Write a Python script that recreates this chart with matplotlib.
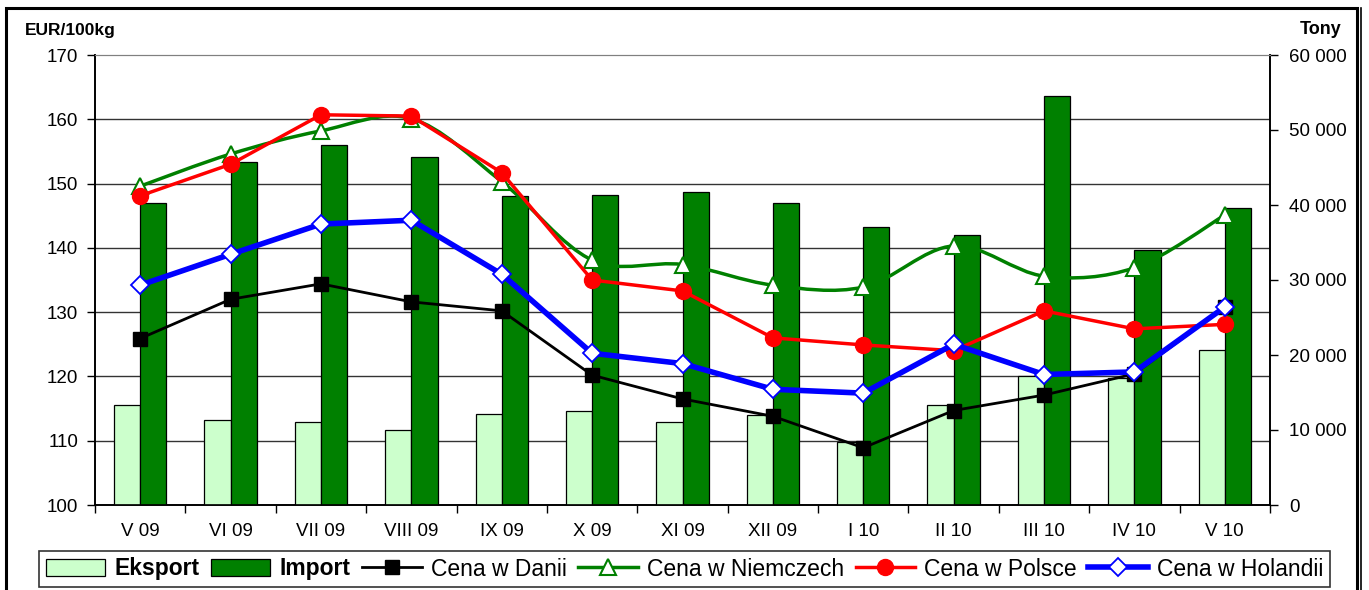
import numpy as np
import matplotlib
matplotlib.use('Agg')
import matplotlib.pyplot as plt
from matplotlib.path import Path
from matplotlib.patches import PathPatch, Patch, Rectangle
from matplotlib.lines import Line2D
from matplotlib.ticker import FuncFormatter

plt.rcParams['font.family'] = ['Liberation Sans', 'DejaVu Sans']

months = ['V 09', 'VI 09', 'VII 09', 'VIII 09', 'IX 09', 'X 09', 'XI 09',
          'XII 09', 'I 10', 'II 10', 'III 10', 'IV 10', 'V 10']

# tony
eksport = [13400, 11400, 11100, 10000, 12100, 12600, 11100,
           12000, 8400, 13400, 17200, 17000, 20700]
import_t = [40300, 45700, 48000, 46400, 41200, 41400, 41700,
            40300, 37100, 36000, 54500, 34000, 39600]

# EUR/100kg
cena_dania = [125.9, 132.0, 134.4, 131.6, 130.2, 120.2, 116.5,
              113.8, 108.9, 114.7, 117.1, 120.4, 130.8]
cena_niemcy = [149.6, 154.6, 158.2, 160.1, 150.3, 138.1, 137.4,
               134.2, 133.9, 140.3, 135.6, 136.9, 145.1]
cena_polska = [148.1, 153.0, 160.7, 160.5, 151.7, 135.0, 133.3,
               126.0, 124.9, 124.0, 130.2, 127.4, 128.1]
cena_holandia = [134.2, 139.0, 143.7, 144.3, 135.9, 123.6, 122.0,
                 118.0, 117.4, 125.0, 120.3, 120.7, 130.8]

eur_ticks = list(range(100, 171, 10))
t_ticks = list(range(0, 60001, 10000))

fig = plt.figure(figsize=(13.69, 5.90), dpi=100)
ax = fig.add_axes([95 / 1369, 1 - 505 / 590, 1175 / 1369, 450 / 590])
ax2 = ax.twinx()

x = np.arange(len(months))
w = 0.29

# bars (tons, right scale)
ax.bar(x - w / 2, eksport, w, color='#CCFFCC', edgecolor='black', linewidth=0.9, zorder=3)
ax.bar(x + w / 2, import_t, w, color='#008000', edgecolor='black', linewidth=0.9, zorder=3)
ax.set_ylim(0, 60000)
ax.set_xlim(-0.5, len(months) - 0.5)
ax.yaxis.tick_right()
ax.set_yticks(t_ticks)
ax.yaxis.set_major_formatter(FuncFormatter(lambda v, p: f'{int(v):,}'.replace(',', ' ')))

# gridlines at EUR ticks, drawn behind bars
grid_t = [(v - 100) * 60000 / 70 for v in eur_ticks]
ax.set_yticks(grid_t, minor=True)
ax.grid(which='minor', axis='y', color='#333333', linewidth=1.0, zorder=0)
ax.tick_params(axis='y', which='minor', length=0)
ax.tick_params(axis='y', which='major', direction='out', length=6, width=1, pad=8,
               labelsize=13.5, right=True, left=False)

# x ticks: marks between categories, labels at centers
ax.set_xticks(np.arange(-0.5, len(months), 1))
ax.set_xticklabels([])
ax.set_xticks(x, minor=True)
ax.set_xticklabels(months, minor=True)
ax.tick_params(axis='x', which='major', direction='out', length=6, width=1)
ax.tick_params(axis='x', which='minor', length=0, pad=13, labelsize=13.5)

# lines (EUR, left scale)
ax2.set_ylim(100, 170)
ax2.yaxis.tick_left()
ax2.set_yticks(eur_ticks)
ax2.tick_params(axis='y', direction='out', length=6, width=1, pad=6, labelsize=13.5,
                left=True, right=False)

# Excel-like smoothed line for Germany
pts = np.column_stack([x, cena_niemcy])
verts = [tuple(pts[0])]
codes = [Path.MOVETO]
n = len(pts)
for i in range(n - 1):
    p0 = pts[max(i - 1, 0)]
    p1 = pts[i]
    p2 = pts[i + 1]
    p3 = pts[min(i + 2, n - 1)]
    c1 = p1 + (p2 - p0) / 6
    c2 = p2 - (p3 - p1) / 6
    verts += [tuple(c1), tuple(c2), tuple(p2)]
    codes += [Path.CURVE4] * 3
ax2.add_patch(PathPatch(Path(verts, codes), facecolor='none', edgecolor='#008000',
                        linewidth=2.5, zorder=4))
ax2.plot(x, cena_niemcy, linestyle='none', marker='^', markersize=11,
         markerfacecolor='white', markeredgecolor='#008000', markeredgewidth=1.5, zorder=5)

ax2.plot(x, cena_dania, color='black', linewidth=2, marker='s', markersize=10.5, zorder=6)
ax2.plot(x, cena_polska, color='#FF0000', linewidth=2.5, marker='o', markersize=11.5, zorder=7)
ax2.plot(x, cena_holandia, color='#0000FF', linewidth=4, marker='D', markersize=9.5,
         markerfacecolor='white', markeredgecolor='#0000FF', markeredgewidth=1.3, zorder=8)

for a in (ax, ax2):
    a.spines['top'].set_color('#808080')
    for s in ('left', 'right', 'bottom'):
        a.spines[s].set_color('black')
        a.spines[s].set_linewidth(1.2)
ax2.patch.set_visible(False)

fig.text(25 / 1369, 1 - 30 / 590, 'EUR/100kg', fontsize=12.5, fontweight='bold', va='center')
fig.text(1342 / 1369, 1 - 30 / 590, 'Tony', fontsize=13, fontweight='bold', va='center', ha='right')

handles = [
    Patch(facecolor='#CCFFCC', edgecolor='black', linewidth=0.9),
    Patch(facecolor='#008000', edgecolor='black', linewidth=0.9),
    Line2D([], [], color='black', linewidth=2, marker='s', markersize=10.5),
    Line2D([], [], color='#008000', linewidth=2.5, marker='^', markersize=11,
           markerfacecolor='white', markeredgecolor='#008000', markeredgewidth=1.5),
    Line2D([], [], color='#FF0000', linewidth=2.5, marker='o', markersize=11.5),
    Line2D([], [], color='#0000FF', linewidth=4, marker='D', markersize=9.5,
           markerfacecolor='white', markeredgecolor='#0000FF', markeredgewidth=1.3),
]
labels = ['Eksport', 'Import', 'Cena w Danii', 'Cena w Niemczech', 'Cena w Polsce', 'Cena w Holandii']
leg = fig.legend(handles, labels, ncol=6, loc='center', bbox_to_anchor=(684.5 / 1369, 1 - 569 / 590),
                 fontsize=16.5, frameon=True, fancybox=False, edgecolor='black',
                 handlelength=2.6, handleheight=0.8, handletextpad=0.4, columnspacing=0.5,
                 borderpad=0.3, borderaxespad=0)
leg.get_frame().set_linewidth(1.2)
for t in leg.get_texts()[:2]:
    t.set_fontweight('bold')

# outer chart frame
fig.add_artist(Rectangle((6 / 1369, -0.1), 1351 / 1369, 1.1 - 8 / 590, transform=fig.transFigure,
                         fill=False, edgecolor='black', linewidth=2.2))
fig.add_artist(Line2D([1361 / 1369] * 2, [-0.1, 1 - 8 / 590], transform=fig.transFigure,
                      color='black', linewidth=1.2))

fig.savefig('out.png', dpi=100)
